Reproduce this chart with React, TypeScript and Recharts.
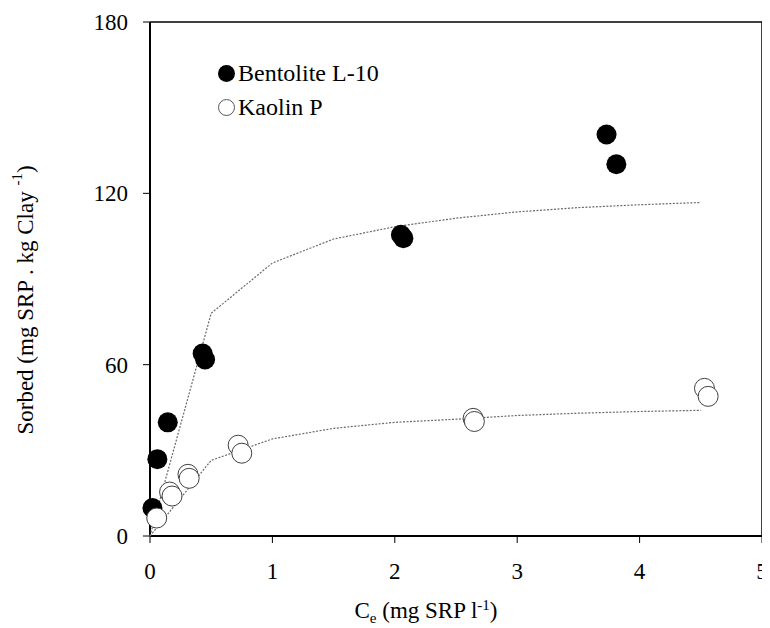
import React from 'react';
import { ScatterChart, Scatter, XAxis, YAxis, ReferenceLine, Legend } from 'recharts';

// measured points
const bentoliteCe = [0.02, 0.06, 0.145, 0.43, 0.45, 2.05, 2.07, 3.73, 3.81];
const bentoliteSorbed = [9.8, 26.9, 39.8, 63.9, 61.8, 105.5, 104.3, 140.6, 130.2];
const kaolinCe = [0.055, 0.16, 0.18, 0.31, 0.32, 0.72, 0.75, 2.64, 2.65, 4.53, 4.56];
const kaolinSorbed = [6.3, 15.4, 14.0, 21.6, 20.2, 31.8, 29.0, 41.2, 40.1, 51.7, 48.9];

// fitted isotherm curves (dotted)
const fitCe = [0, 0.5, 1, 1.5, 2, 2.5, 3, 3.5, 4, 4.5];
const bentoliteFit = [0, 78, 95.6, 104, 108.3, 111.3, 113.5, 115, 116, 116.8];
const kaolinFit = [0, 26.5, 34, 37.7, 39.8, 40.9, 42.2, 43, 43.6, 44];

const xTicks = [0, 1, 2, 3, 4, 5];
const yTicks = [0, 60, 120, 180];

const toPoints = (xs: number[], ys: number[]) => xs.map((x, i) => ({ x, y: ys[i] }));

const bentolite = toPoints(bentoliteCe, bentoliteSorbed);
const kaolin = toPoints(kaolinCe, kaolinSorbed);
const bentoliteCurve = toPoints(fitCe, bentoliteFit);
const kaolinCurve = toPoints(fitCe, kaolinFit);

const FONT = 'Liberation Serif';
const FS = 23;

const FilledDot = (props: any) => <circle cx={props.cx} cy={props.cy} r={10} fill="#000" />;
const OpenDot = (props: any) => (
  <circle cx={props.cx} cy={props.cy} r={10} fill="#fff" stroke="#404040" strokeWidth={1} />
);
const NoDot = () => <g />;

const fitLine = { stroke: '#6a6a6a', strokeWidth: 1.2, strokeDasharray: '2 1.5' };

const renderLegend = () => (
  <div style={{ fontFamily: FONT, fontSize: 24, color: '#000' }}>
    <div style={{ display: 'flex', alignItems: 'center', height: 34 }}>
      <svg width={17} height={17}>
        <circle cx={8.5} cy={8.5} r={8.5} fill="#000" />
      </svg>
      <span style={{ marginLeft: 3 }}>Bentolite L-10</span>
    </div>
    <div style={{ display: 'flex', alignItems: 'center', height: 34 }}>
      <svg width={17} height={17}>
        <circle cx={8.5} cy={8.5} r={8} fill="#fff" stroke="#555" strokeWidth={1} />
      </svg>
      <span style={{ marginLeft: 3 }}>Kaolin P</span>
    </div>
  </div>
);

const YTitle = () => (
  <text
    x={17}
    y={292}
    transform="rotate(-90 17 292)"
    textAnchor="middle"
    dominantBaseline="central"
    fontFamily={FONT}
    fontSize={FS}
    fill="#000"
  >
    Sorbed (mg SRP . kg Clay <tspan fontSize={15} dy={-8}>-1</tspan>
    <tspan dy={8}>)</tspan>
  </text>
);

const XTitle = () => (
  <text x={418} y={610} textAnchor="middle" fontFamily={FONT} fontSize={FS} fill="#000">
    C<tspan fontSize={15} dy={5}>e</tspan>
    <tspan dy={-5}> (mg SRP l</tspan>
    <tspan fontSize={15} dy={-8}>-1</tspan>
    <tspan dy={8}>)</tspan>
  </text>
);

export default function App() {
  return (
    <div style={{ fontFamily: FONT }}>
      <ScatterChart width={770} height={620} margin={{ top: 14, right: 16, bottom: 62, left: 62 }}>
        <XAxis
          type="number"
          dataKey="x"
          height={30}
          domain={[0, 5]}
          ticks={xTicks}
          tickSize={7}
          tickMargin={20}
          axisLine={{ stroke: '#000', strokeWidth: 2 }}
          tickLine={{ stroke: '#000', strokeWidth: 1 }}
          tick={{ fill: '#000', fontSize: FS, fontFamily: FONT }}
          label={{ content: XTitle }}
        />
        <YAxis
          type="number"
          dataKey="y"
          width={80}
          domain={[0, 180]}
          ticks={yTicks}
          tickSize={7}
          tickMargin={15}
          axisLine={{ stroke: '#000', strokeWidth: 2 }}
          tickLine={{ stroke: '#000', strokeWidth: 1 }}
          tick={{ fill: '#000', fontSize: FS, fontFamily: FONT }}
          label={{ content: YTitle }}
        />
        <ReferenceLine y={180} stroke="#000" strokeWidth={1.5} />
        <ReferenceLine x={5} stroke="#000" strokeWidth={1.5} />
        <Legend
          layout="vertical"
          align="center"
          verticalAlign="middle"
          wrapperStyle={{ top: 48, left: 210, width: 'auto' }}
          content={renderLegend}
        />
        <Scatter data={bentoliteCurve} line={fitLine} shape={NoDot} isAnimationActive={false} legendType="none" />
        <Scatter data={kaolinCurve} line={fitLine} shape={NoDot} isAnimationActive={false} legendType="none" />
        <Scatter name="Bentolite L-10" data={bentolite} shape={FilledDot} isAnimationActive={false} />
        <Scatter name="Kaolin P" data={kaolin} shape={OpenDot} isAnimationActive={false} />
      </ScatterChart>
    </div>
  );
}
